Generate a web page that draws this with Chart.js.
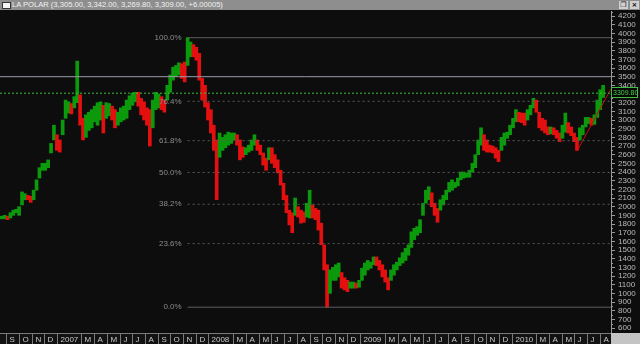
<!DOCTYPE html>
<html>
<head>
<meta charset="utf-8">
<title>LA POLAR</title>
<script src="https://cdn.jsdelivr.net/npm/chart.js@4.4.1/dist/chart.umd.min.js"></script>
<style>
  html, body { margin: 0; padding: 0; background: #0d0d0d; }
  #wrap { position: relative; width: 640px; height: 344px; overflow: hidden; background: #0d0d0d; }
  #priceChart { position: absolute; left: 0; top: 0; }
  #titleBar {
    position: absolute; left: 0; top: 0; width: 640px; height: 10px;
    background: #8e8e8e; color: #f2f2f2;
    font: 7.6px "Liberation Sans", Arial, sans-serif; line-height: 10px; white-space: nowrap;
  }
  #titleBar .icon {
    position: absolute; left: 2px; top: 2px; width: 7px; height: 5px;
    background: #f4f4f4; border: 1px solid #333;
  }
  #titleBar .text { position: absolute; left: 12px; top: 0; }
  #titleBar .btn {
    position: absolute; top: 1px; width: 9px; height: 8px; background: #d0d0d0;
    color: #111; font: bold 7px "DejaVu Sans", sans-serif; line-height: 8px; text-align: center;
  }
</style>
</head>
<body>
<div id="wrap">
  <canvas id="priceChart" width="640" height="344"></canvas>
  <div id="titleBar">
    <span class="icon"></span>
    <span class="text">LA POLAR (3,305.00, 3,342.00, 3,269.80, 3,309.00, +6.00005)</span>
    <span class="btn" style="left:619px">&#10064;</span>
    <span class="btn" style="left:630px">&#215;</span>
  </div>
</div>
<script>
// weekly bars, first week starting on this date
const weekStart = '2006-08-21';

const highs = [
  1890, 1900, 1890, 1930, 1960, 1970, 2000, 2170, 2150, 2130,
  2120, 2190, 2310, 2450, 2500, 2500, 2540, 2730, 2940, 2830,
  2770, 3000, 3230, 3210, 3190, 3270, 3680, 3290, 3020, 3060,
  3090, 3120, 3160, 3200, 3210, 3170, 3200, 3190, 3160, 3120,
  3090, 3140, 3160, 3230, 3280, 3310, 3320, 3320, 3250, 3210,
  3140, 3120, 3230, 3320, 3300, 3270, 3230, 3400, 3520, 3610,
  3630, 3660, 3650, 3670, 3950, 3900, 3870, 3840, 3770, 3480,
  3400, 3200, 3120, 2940, 2770, 2850, 2800, 2830, 2860, 2850,
  2850, 2830, 2770, 2690, 2680, 2710, 2770, 2830, 2770, 2710,
  2620, 2560, 2680, 2680, 2600, 2540, 2420, 2270, 2130, 1960,
  1930, 2100, 2000, 1960, 1940, 2040, 2190, 2020, 1980, 1960,
  1810, 1560, 1330, 1270, 1300, 1330, 1350, 1240, 1180, 1150,
  1130, 1130, 1120, 1150, 1290, 1350, 1380, 1360, 1420, 1420,
  1380, 1330, 1270, 1180, 1270, 1330, 1360, 1410, 1470, 1520,
  1560, 1710, 1750, 1770, 1850, 2040, 2190, 2230, 2160, 2040,
  1980, 2080, 2130, 2190, 2280, 2310, 2280, 2330, 2400, 2400,
  2390, 2420, 2500, 2600, 2770, 2910, 2830, 2770, 2710, 2700,
  2680, 2650, 2800, 2850, 2860, 2940, 3020, 3120, 3090, 3080,
  3080, 3120, 3170, 3250, 3230, 3090, 3020, 3000, 2920, 2920,
  2910, 2880, 2850, 2940, 3080, 2970, 2920, 2850, 2800, 2910,
  2940, 3030, 3030, 3020, 3060, 3230, 3350, 3400
];

const lows = [
  1860, 1860, 1850, 1870, 1900, 1930, 1900, 2020, 2080, 2080,
  2050, 2080, 2190, 2330, 2420, 2420, 2450, 2620, 2770, 2650,
  2630, 2830, 3020, 3080, 3070, 3140, 3200, 2940, 2770, 2800,
  2880, 2910, 2980, 2940, 3000, 2850, 3020, 3050, 3000, 2910,
  2940, 2980, 3000, 3020, 3120, 3170, 3210, 3160, 3060, 3000,
  2940, 2700, 2910, 3120, 3140, 3120, 3090, 3230, 3320, 3460,
  3500, 3520, 3480, 3440, 3630, 3730, 3730, 3690, 3460, 3230,
  3150, 3000, 2850, 2650, 2080, 2570, 2650, 2680, 2710, 2730,
  2770, 2710, 2540, 2570, 2600, 2630, 2650, 2710, 2650, 2600,
  2480, 2420, 2540, 2500, 2450, 2390, 2250, 2080, 1930, 1790,
  1700, 1900, 1880, 1810, 1820, 1880, 1870, 1870, 1850, 1730,
  1560, 1270, 840, 1000, 1150, 1150, 1190, 1060, 1040, 1020,
  1060, 1060, 1060, 1070, 1150, 1210, 1270, 1290, 1330, 1320,
  1270, 1190, 1130, 1040, 1150, 1210, 1270, 1320, 1350, 1380,
  1440, 1530, 1620, 1670, 1700, 1900, 2040, 2080, 2000, 1900,
  1820, 1960, 2020, 2080, 2170, 2190, 2220, 2240, 2310, 2330,
  2340, 2340, 2400, 2450, 2600, 2710, 2650, 2630, 2630, 2620,
  2560, 2520, 2650, 2710, 2790, 2830, 2910, 2980, 2980, 2970,
  2940, 3000, 3060, 3140, 3090, 2910, 2880, 2850, 2830, 2840,
  2830, 2790, 2750, 2790, 2860, 2850, 2820, 2750, 2650, 2770,
  2830, 2920, 2960, 2940, 2950, 3030, 3120, 3260
];

const lastClose = 3309.8;
const resistanceLevel = 3500;
const fibPercents = [0, 23.6, 38.2, 50.0, 61.8, 76.4, 100.0];
const trendStart = { date: '2010-06-07', price: 2640 };
const trendEnd = { date: '2010-08-28', price: 3360 };

const viewStart = '2006-08-17';
const viewEnd = '2010-08-28';
const monthLetters = ['J', 'F', 'M', 'A', 'M', 'J', 'J', 'A', 'S', 'O', 'N', 'D'];
const priceTicks = [
  600, 700, 800, 900, 1000, 1100, 1200, 1300, 1400, 1500, 1600, 1700, 1800,
  1900, 2000, 2100, 2200, 2300, 2400, 2500, 2600, 2700, 2800, 2900, 3000,
  3100, 3200, 3300, 3400, 3500, 3600, 3700, 3800, 3900, 4000, 4100, 4200
];

const UP = '#0b9a0b';
const DOWN = '#e41010';
const DAY_MS = 86400000;

function dayOf(iso) {
  return (Date.parse(iso) - Date.parse('2007-01-01')) / DAY_MS;
}

const firstDay = dayOf(weekStart);
const weekDays = highs.map((_, i) => firstDay + 7 * i);
const xMin = dayOf(viewStart);
const xMax = dayOf(viewEnd);

const barColors = highs.map((h, i) => {
  if (i === 0) return UP;
  return h + lows[i] >= highs[i - 1] + lows[i - 1] ? UP : DOWN;
});

// fibonacci retracement from the top to the bottom of the move
const topIndex = highs.indexOf(Math.max(...highs));
const fibHigh = highs[topIndex];
const fibLow = Math.min(...lows);
const fibStartDay = weekDays[topIndex];
const fibValue = (pct) => fibLow + (pct / 100) * (fibHigh - fibLow);

function hLine(y, from, color, dash) {
  return {
    type: 'line',
    data: [{ x: from, y }, { x: xMax, y }],
    borderColor: color,
    borderWidth: 1,
    borderDash: dash || [],
    pointRadius: 0,
    order: 0,
  };
}

const lineSets = [
  hLine(resistanceLevel, xMin, '#9c9cab'),
  hLine(lastClose, xMin, '#3fbf3f', [2, 2]),
  ...fibPercents.map((pct) => {
    const solid = pct === 0 || pct === 100;
    return hLine(fibValue(pct), fibStartDay, solid ? '#5c5c5c' : '#5a5a5a', solid ? [] : [2, 3]);
  }),
  {
    type: 'line',
    data: [
      { x: dayOf(trendStart.date), y: trendStart.price },
      { x: dayOf(trendEnd.date), y: trendEnd.price },
    ],
    borderColor: '#c80c0c',
    borderWidth: 1,
    pointRadius: 0,
    order: 0,
  },
];

const overlayPlugin = {
  id: 'overlay',
  afterDraw(chart) {
    const { ctx, chartArea, scales } = chart;
    const xs = scales.x;
    const ys = scales.y;
    ctx.save();

    // fib labels
    ctx.font = '8px "Liberation Sans", Arial, sans-serif';
    ctx.fillStyle = '#8c8c8c';
    ctx.textAlign = 'right';
    ctx.textBaseline = 'middle';
    const labelX = xs.getPixelForValue(fibStartDay) - 6;
    fibPercents.forEach((pct) => {
      ctx.fillText(pct.toFixed(1) + '%', labelX, ys.getPixelForValue(fibValue(pct)));
    });

    // minor ticks on the price axis
    ctx.strokeStyle = '#9a9a9a';
    ctx.lineWidth = 1;
    priceTicks.forEach((v) => {
      const y = Math.round(ys.getPixelForValue(v + 50)) + 0.5;
      if (y < chartArea.top) return;
      ctx.beginPath();
      ctx.moveTo(chartArea.right, y);
      ctx.lineTo(chartArea.right + 2, y);
      ctx.stroke();
    });

    // last price box
    const cy = Math.round(ys.getPixelForValue(lastClose));
    ctx.fillStyle = '#050505';
    ctx.fillRect(chartArea.right, cy - 6, 27, 11);
    ctx.strokeStyle = '#3fbf3f';
    ctx.strokeRect(chartArea.right + 0.5, cy - 5.5, 26, 10);
    ctx.fillStyle = '#4cd44c';
    ctx.textAlign = 'left';
    ctx.font = '7px "Liberation Sans", Arial, sans-serif';
    ctx.fillText(lastClose.toFixed(2), chartArea.right + 2, cy);

    // month band
    const top = chartArea.bottom + 1;
    const bottom = chart.height;
    ctx.fillStyle = '#121212';
    ctx.fillRect(0, top, chartArea.right, bottom - top);
    ctx.fillStyle = '#c4c4c4';
    ctx.fillRect(chartArea.right, top, chart.width - chartArea.right, bottom - top);
    ctx.strokeStyle = '#7a7a7a';
    ctx.beginPath();
    ctx.moveTo(0, top + 0.5);
    ctx.lineTo(chartArea.right, top + 0.5);
    ctx.stroke();

    ctx.font = '8px "Liberation Sans", Arial, sans-serif';
    ctx.textBaseline = 'middle';
    const startDate = new Date(Date.parse(viewStart));
    let year = startDate.getUTCFullYear();
    let month = startDate.getUTCMonth() + 1;
    while (true) {
      const iso = `${year}-${String(month + 1).padStart(2, '0')}-01`;
      const day = dayOf(iso);
      if (day > xMax) break;
      if (month !== 1) {
        const px = Math.round(xs.getPixelForValue(day)) + 0.5;
        ctx.strokeStyle = '#7a7a7a';
        ctx.beginPath();
        ctx.moveTo(px, top);
        ctx.lineTo(px, bottom);
        ctx.stroke();
        ctx.fillStyle = '#c8c8c8';
        ctx.fillText(month === 0 ? String(year) : monthLetters[month], px + 3, (top + bottom) / 2 + 1);
      }
      month += 1;
      if (month > 11) { month = 0; year += 1; }
    }
    ctx.restore();
  },
};

new Chart(document.getElementById('priceChart'), {
  type: 'bar',
  data: {
    datasets: [
      {
        type: 'bar',
        data: weekDays.map((d, i) => ({ x: d, y: [lows[i], highs[i]] })),
        backgroundColor: barColors,
        barThickness: 3,
        order: 1,
      },
      ...lineSets,
    ],
  },
  options: {
    responsive: false,
    animation: false,
    layout: { padding: { top: 11, bottom: 12, left: 0, right: 0 } },
    plugins: { legend: { display: false }, tooltip: { enabled: false } },
    scales: {
      x: {
        type: 'linear',
        display: false,
        offset: false,
        min: xMin,
        max: xMax,
      },
      y: {
        position: 'right',
        min: 554,
        max: 4258,
        afterFit: (scale) => { scale.width = 29; },
        afterBuildTicks: (scale) => { scale.ticks = priceTicks.map((v) => ({ value: v })); },
        grid: { drawOnChartArea: false, color: '#9a9a9a', tickLength: 4 },
        border: { color: '#9a9a9a' },
        ticks: {
          color: '#bababa',
          padding: 3,
          autoSkip: false,
          callback: (value) => String(value),
          font: { size: 8, family: '"Liberation Sans", Arial, sans-serif' },
        },
      },
    },
  },
  plugins: [overlayPlugin],
});
</script>
</body>
</html>
